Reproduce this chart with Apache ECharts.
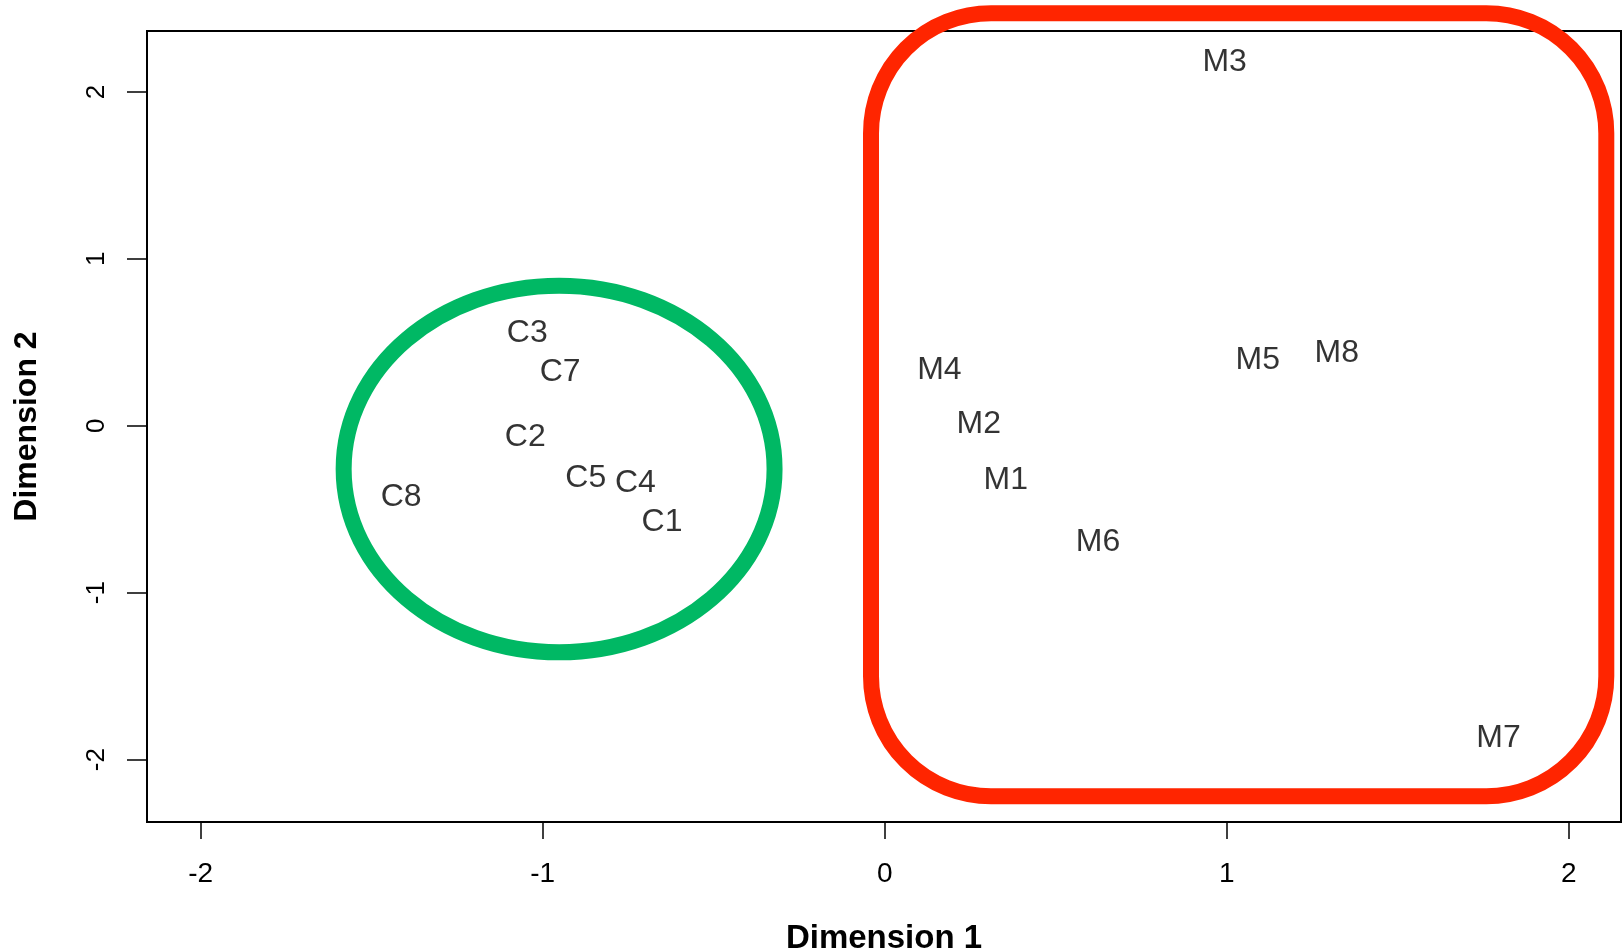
<!DOCTYPE html>
<html><head><meta charset="utf-8">
<script src="https://cdn.jsdelivr.net/npm/echarts@6/dist/echarts.min.js"></script>
<style>html,body{margin:0;padding:0;background:#fff}#c{width:1623px;height:951px}</style>
</head><body><div id="c"></div>
<script>
// ---- data ----
const labels = ['C1','C2','C3','C4','C5','C7','C8','M1','M2','M3','M4','M5','M6','M7','M8'];
const dim1 = [-0.651,-1.051,-1.045,-0.729,-0.874,-0.949,-1.414,0.354,0.275,0.994,0.160,1.091,0.624,1.795,1.322];
const dim2 = [-0.563,-0.057,0.568,-0.334,-0.301,0.330,-0.415,-0.316,0.023,2.193,0.346,0.404,-0.686,-1.862,0.446];
const xTicks = [-2,-1,0,1,2];
const yTicks = [-2,-1,0,1,2];
const xTitle = 'Dimension 1';
const yTitle = 'Dimension 2';
// annotation outlines, in data units
const ellipseCenter = [-0.952,-0.259];
const ellipseRadius = [0.630,1.098];
const boxX = [-0.040, 2.110];
const boxY = [-2.220, 2.472];

const FONT = "'Liberation Sans', Arial, sans-serif";
const chart = echarts.init(document.getElementById('c'), null, {renderer:'canvas'});
chart.setOption({
  animation:false,
  backgroundColor:'#fff',
  grid:{left:147, right:2, top:31, bottom:129, outerBoundsMode:'none', containLabel:false,
        show:true, borderColor:'#000', borderWidth:2, backgroundColor:'transparent'},
  xAxis:{
    type:'value', min:-2.157, max:2.153,
    name:xTitle, nameLocation:'middle', nameGap:117,
    nameTextStyle:{fontFamily:FONT, fontSize:33, fontWeight:'bold', color:'#000', verticalAlign:'middle', align:'center'},
    axisLine:{show:true, onZero:false, lineStyle:{color:'#000', width:2}},
    axisTick:{show:true, customValues:xTicks, length:17, lineStyle:{color:'#000', width:1.5}},
    axisLabel:{customValues:xTicks, fontFamily:FONT, fontSize:28, color:'#000', margin:38},
    splitLine:{show:false}
  },
  yAxis:{
    type:'value', min:-2.374, max:2.365,
    name:yTitle, nameLocation:'middle', nameGap:120,
    nameTextStyle:{fontFamily:FONT, fontSize:32, fontWeight:'bold', color:'#000', verticalAlign:'middle', align:'center'},
    axisLine:{show:true, onZero:false, lineStyle:{color:'#000', width:2}},
    axisTick:{show:true, customValues:yTicks, length:20, lineStyle:{color:'#000', width:1.5}},
    axisLabel:{customValues:yTicks, rotate:90, fontFamily:FONT, fontSize:26, color:'#000', margin:37},
    splitLine:{show:false}
  },
  series:[{
    type:'scatter', silent:true,
    symbolSize:1,
    itemStyle:{color:'rgba(0,0,0,0)'},
    label:{show:true, position:'inside', offset:[0,2], formatter:'{b}', fontFamily:FONT, fontSize:32, color:'#000'},
    emphasis:{disabled:true},
    data: labels.map((l,i)=>({name:l, value:[dim1[i], dim2[i]]}))
  }]
});

const px = (x,y)=>chart.convertToPixel({gridIndex:0},[x,y]);
const c = px(ellipseCenter[0], ellipseCenter[1]);
const e = px(ellipseCenter[0]+ellipseRadius[0], ellipseCenter[1]+ellipseRadius[1]);
const tl = px(boxX[0], boxY[1]);
const br = px(boxX[1], boxY[0]);
chart.setOption({graphic:[
  {type:'ellipse', z:100, shape:{cx:c[0], cy:c[1], rx:e[0]-c[0], ry:c[1]-e[1]}, style:{fill:'none', stroke:'#00B864', lineWidth:16}},
  {type:'rect', z:100, shape:{x:tl[0], y:tl[1], width:br[0]-tl[0], height:br[1]-tl[1], r:120}, style:{fill:'none', stroke:'#FF2500', lineWidth:16}}
]});
</script>
</body></html>
